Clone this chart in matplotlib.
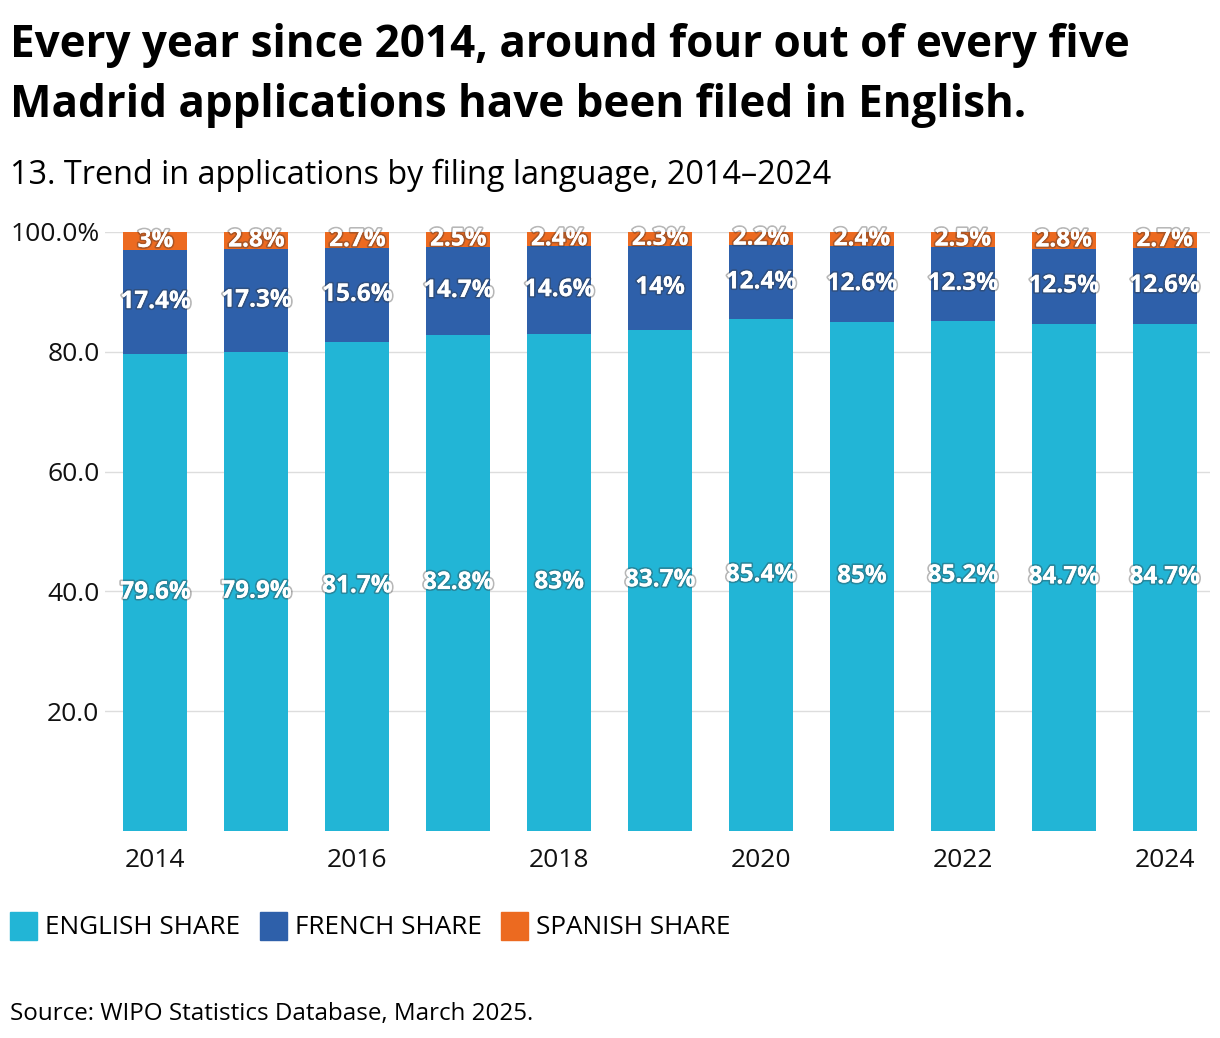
import matplotlib.pyplot as plt
import matplotlib.patheffects as pe
import numpy as np

years = [2014, 2015, 2016, 2017, 2018, 2019, 2020, 2021, 2022, 2023, 2024]
english = [79.6, 79.9, 81.7, 82.8, 83.0, 83.7, 85.4, 85.0, 85.2, 84.7, 84.7]
french = [17.4, 17.3, 15.6, 14.7, 14.6, 14.0, 12.4, 12.6, 12.3, 12.5, 12.6]
spanish = [3.0, 2.8, 2.7, 2.5, 2.4, 2.3, 2.2, 2.4, 2.5, 2.8, 2.7]
series_names = ['ENGLISH SHARE', 'FRENCH SHARE', 'SPANISH SHARE']
colors = ['#22B5D6', '#2E60AA', '#EC6A20']

plt.rcParams['font.family'] = ['Open Sans', 'DejaVu Sans']

fig = plt.figure(figsize=(12.2, 10.38), dpi=100)
ax = fig.add_axes([105 / 1220, 1 - 831 / 1038, (1210 - 105) / 1220, (831 - 232) / 1038])

x = np.arange(len(years))
w = 0.635
bottom = np.zeros(len(years))
for vals, c in zip([english, french, spanish], colors):
    vals = np.array(vals)
    ax.bar(x, vals, w, bottom=bottom, color=c, zorder=2)
    for xi, b, v in zip(x, bottom, vals):
        ax.text(xi, b + v / 2, '%g%%' % v, ha='center', va='center', color='white',
                fontsize=17.5, fontweight='bold', zorder=4,
                path_effects=[pe.withStroke(linewidth=2.5, foreground='#333333', alpha=0.35), pe.Normal()])
    bottom = bottom + vals

ax.set_xlim(-0.5, 10.45)
ax.set_ylim(0, 100)
ax.set_yticks([20, 40, 60, 80, 100])
ax.set_yticklabels(['20.0', '40.0', '60.0', '80.0', '100.0%'])
ax.set_xticks(x[::2])
ax.set_xticklabels([str(y) for y in years[::2]])
ax.tick_params(length=0, labelsize=19, colors='#111111')
ax.tick_params(axis='x', pad=12)
ax.tick_params(axis='y', pad=4)
ax.grid(axis='y', color='#dddddd', linewidth=1, zorder=0)
for s in ax.spines.values():
    s.set_visible(False)

fig.text(10 / 1220, 1 - 46 / 1038, 'Every year since 2014, around four out of every five',
         fontsize=31.7, fontweight='bold', va='center', ha='left')
fig.text(10 / 1220, 1 - 106 / 1038, 'Madrid applications have been filed in English.',
         fontsize=31.7, fontweight='bold', va='center', ha='left')
fig.text(10 / 1220, 1 - 175 / 1038, '13. Trend in applications by filing language, 2014\u20132024',
         fontsize=23.3, va='center', ha='left')

# legend
lx = [10, 260, 501]
for px, name, c in zip(lx, series_names, colors):
    fig.patches.append(plt.Rectangle((px / 1220, 1 - 940 / 1038), 27 / 1220, 28 / 1038,
                                     transform=fig.transFigure, color=c))
    fig.text((px + 35) / 1220, 1 - 927 / 1038, name, fontsize=18.8, va='center', ha='left')

fig.text(10 / 1220, 1 - 1014 / 1038, 'Source: WIPO Statistics Database, March 2025.',
         fontsize=17.4, va='center', ha='left')

fig.savefig('out.png', dpi=100)
